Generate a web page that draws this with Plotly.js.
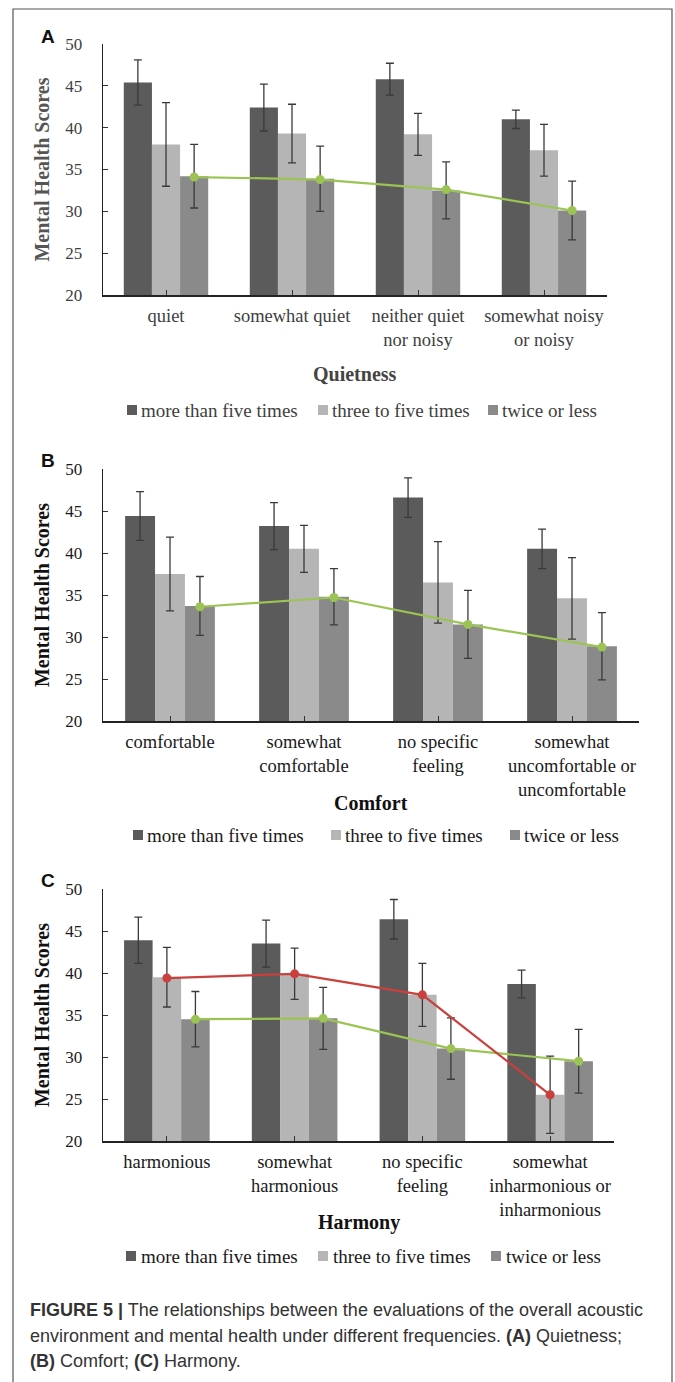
<!DOCTYPE html>
<html>
<head>
<meta charset="utf-8">
<script src="https://cdn.plot.ly/plotly-3.0.1.min.js"></script>
<style>
html,body{margin:0;padding:0;background:#fff;}
#chart{width:675px;height:1382px;}
</style>
</head>
<body>
<div id="chart"></div>
<script>
// ---------------- DATA ----------------
const seriesNames = ['more than five times', 'three to five times', 'twice or less'];

const categoriesA = ['quiet', 'somewhat quiet', 'neither quiet<br>nor noisy', 'somewhat noisy<br>or noisy'];
const moreA  = [45.4, 42.4, 45.8, 41.0];
const moreAErr  = [2.7, 2.8, 1.9, 1.1];
const threeA = [38.0, 39.3, 39.2, 37.3];
const threeAErr = [5.0, 3.5, 2.5, 3.1];
const twiceA = [34.2, 33.9, 32.5, 30.1];
const twiceAErr = [3.8, 3.9, 3.4, 3.5];
const greenA = [34.1, 33.8, 32.6, 30.1];

const categoriesB = ['comfortable', 'somewhat<br>comfortable', 'no specific<br>feeling', 'somewhat<br>uncomfortable or<br>uncomfortable'];
const moreB  = [44.4, 43.2, 46.6, 40.5];
const moreBErr  = [2.9, 2.8, 2.35, 2.35];
const threeB = [37.5, 40.5, 36.5, 34.6];
const threeBErr = [4.4, 2.8, 4.85, 4.85];
const twiceB = [33.7, 34.8, 31.5, 28.9];
const twiceBErr = [3.5, 3.35, 4.05, 4.0];
const greenB = [33.6, 34.7, 31.5, 28.8];

const categoriesC = ['harmonious', 'somewhat<br>harmonious', 'no specific<br>feeling', 'somewhat<br>inharmonious or<br>inharmonious'];
const moreC  = [43.9, 43.5, 46.4, 38.7];
const moreCErr  = [2.75, 2.8, 2.35, 1.65];
const threeC = [39.5, 39.9, 37.4, 25.5];
const threeCErr = [3.55, 3.05, 3.75, 4.6];
const twiceC = [34.5, 34.6, 31.0, 29.5];
const twiceCErr = [3.3, 3.7, 3.65, 3.8];
const redC   = [39.4, 39.9, 37.4, 25.5];
const greenC = [34.5, 34.6, 31.0, 29.5];

const axisTitles = ['Quietness', 'Comfort', 'Harmony'];
const panelLetters = ['A', 'B', 'C'];
const yTitle = 'Mental Health Scores';

// ---------------- STYLE / LAYOUT ----------------
const W = 675, H = 1382;
const px = x => x / W;
const py = y => 1 - y / H;
const SERIF = 'Liberation Serif';
const SANS = 'Liberation Sans';
const barColors = ['#5b5b5b', '#b5b5b5', '#8a8a8a'];
const GREEN = '#9bc455';
const RED = '#c9403d';
const BARGAP = 0.33;
const thirdOffset = (1 - BARGAP) / 3;

const panels = [
  {cats: categoriesA, vals: [moreA, threeA, twiceA], errs: [moreAErr, threeAErr, twiceAErr],
   green: greenA, red: null, top: 44, bottom: 295, right: 607, txtColor: '#404040',
   titleY: 374, legendY: 410, sq: [127, 318, 488], tx: [140, 331, 501], letterY: 36},
  {cats: categoriesB, vals: [moreB, threeB, twiceB], errs: [moreBErr, threeBErr, twiceBErr],
   green: greenB, red: null, top: 469, bottom: 721, right: 639, txtColor: '#1a1a1a',
   titleY: 803, legendY: 835, sq: [133, 331, 510], tx: [146, 344, 523], letterY: 460},
  {cats: categoriesC, vals: [moreC, threeC, twiceC], errs: [moreCErr, threeCErr, twiceCErr],
   green: greenC, red: redC, top: 889, bottom: 1141, right: 614, txtColor: '#1a1a1a',
   titleY: 1222, legendY: 1256, sq: [126, 318, 491], tx: [140, 332, 505], letterY: 880}
];

const traces = [];
const layout = {
  width: W, height: H,
  margin: {l: 0, r: 0, t: 0, b: 0},
  paper_bgcolor: '#fff', plot_bgcolor: '#fff',
  barmode: 'group', bargap: BARGAP, bargroupgap: 0,
  showlegend: false,
  annotations: [], shapes: []
};

panels.forEach((p, k) => {
  const sfx = k === 0 ? '' : String(k + 1);
  const xa = 'x' + sfx, ya = 'y' + sfx;
  const idx = p.cats.map((c, i) => i);
  p.vals.forEach((v, s) => {
    traces.push({
      type: 'bar', name: seriesNames[s], x: idx, y: v, xaxis: xa, yaxis: ya,
      marker: {color: barColors[s]},
      error_y: {type: 'data', array: p.errs[s], visible: true, color: '#3a3a3a', thickness: 1.3, width: 4}
    });
  });
  traces.push({
    type: 'scatter', mode: 'lines+markers', x: idx.map(i => i + thirdOffset), y: p.green,
    xaxis: xa, yaxis: ya, line: {color: GREEN, width: 2.2}, marker: {color: GREEN, size: 9}
  });
  if (p.red) {
    traces.push({
      type: 'scatter', mode: 'lines+markers', x: idx, y: p.red,
      xaxis: xa, yaxis: ya, line: {color: RED, width: 2.2}, marker: {color: RED, size: 9}
    });
  }
  layout['xaxis' + sfx] = {
    domain: [px(103), px(p.right)], anchor: ya, range: [-0.5, 3.5],
    tickmode: 'array', tickvals: idx, ticktext: p.cats,
    ticks: 'inside', ticklen: 5, tickcolor: '#333', tickwidth: 1,
    minor: {tickmode: 'array', tickvals: [-0.5, 3.5], ticks: 'inside', ticklen: 5, tickcolor: '#333'},
    showline: true, linecolor: '#222', linewidth: 1.5, showgrid: false, zeroline: false,
    tickfont: {family: SERIF, size: 18.5, color: p.txtColor}, ticklabelstandoff: 3,
    fixedrange: true
  };
  layout['yaxis' + sfx] = {
    domain: [py(p.bottom), py(p.top)], anchor: xa, range: [20, 50], dtick: 5,
    ticks: 'inside', ticklen: 5, tickcolor: '#333', tickwidth: 1,
    showline: true, linecolor: '#222', linewidth: 1.3, showgrid: false, zeroline: false,
    tickfont: {family: SERIF, size: 17, color: p.txtColor}, ticklabelstandoff: 16,
    title: {text: '<b>' + yTitle + '</b>', font: {family: SERIF, size: 20, color: k === 0 ? '#555' : '#111'}, standoff: 10},
    fixedrange: true
  };
  layout.annotations.push({
    xref: 'paper', yref: 'paper', x: px((103 + p.right) / 2), y: py(p.titleY),
    xanchor: 'center', yanchor: 'middle', showarrow: false,
    text: '<b>' + axisTitles[k] + '</b>', font: {family: SERIF, size: 20, color: k === 0 ? '#444' : '#111'}
  });
  layout.annotations.push({
    xref: 'paper', yref: 'paper', x: px(48), y: py(p.letterY),
    xanchor: 'center', yanchor: 'middle', showarrow: false,
    text: '<b>' + panelLetters[k] + '</b>', font: {family: SANS, size: 19, color: '#111'}
  });
  seriesNames.forEach((n, s) => {
    layout.shapes.push({
      type: 'rect', xref: 'paper', yref: 'paper',
      x0: px(p.sq[s]), x1: px(p.sq[s] + 10), y0: py(p.legendY + 5), y1: py(p.legendY - 5),
      fillcolor: barColors[s], line: {width: 0}
    });
    layout.annotations.push({
      xref: 'paper', yref: 'paper', x: px(p.tx[s] - 1), y: py(p.legendY),
      xanchor: 'left', yanchor: 'middle', showarrow: false,
      text: n, font: {family: SERIF, size: 19, color: p.txtColor}
    });
  });
});

const captionLines = [
  '<b>FIGURE 5 |</b> The relationships between the evaluations of the overall acoustic',
  'environment and mental health under different frequencies. <b>(A)</b> Quietness;',
  '<b>(B)</b> Comfort; <b>(C)</b> Harmony.'
];
const captionY = [1310, 1336, 1361];
captionLines.forEach((t, i) => {
  layout.annotations.push({
    xref: 'paper', yref: 'paper', x: px(28), y: py(captionY[i]),
    xanchor: 'left', yanchor: 'middle', showarrow: false, align: 'left',
    text: t, font: {family: SANS, size: 18, color: '#333'}
  });
});

layout.shapes.push({
  type: 'rect', xref: 'paper', yref: 'paper',
  x0: px(13), x1: px(672), y0: py(1395), y1: py(9),
  line: {color: '#555', width: 1.2}, fillcolor: 'rgba(0,0,0,0)', layer: 'below'
});

Plotly.newPlot('chart', traces, layout, {displayModeBar: false, staticPlot: true});
</script>
</body>
</html>
